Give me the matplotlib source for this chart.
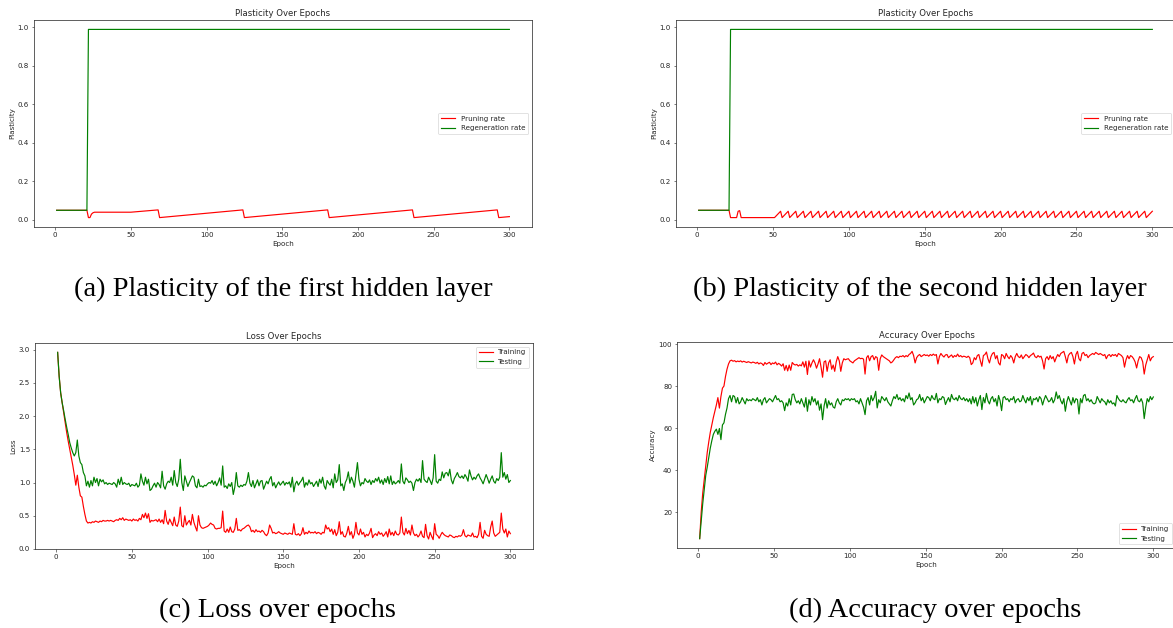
import matplotlib
matplotlib.use("Agg")
import matplotlib.pyplot as plt
import numpy as np

# ---------------- data ----------------
epochs = list(range(1, 301))

# (a) plasticity of first hidden layer (breakpoints of the drawn line)
a_prune_x = [1, 21, 22, 23, 24, 25, 26, 50, 68, 69, 124, 125, 180, 181, 236, 237, 292, 293, 300]
a_prune_y = [0.05, 0.05, 0.012, 0.012, 0.03, 0.037, 0.04, 0.04, 0.052, 0.012, 0.052, 0.012,
             0.052, 0.012, 0.052, 0.012, 0.052, 0.012, 0.017]
regen_x = [1, 21, 22, 300]
regen_y = [0.05, 0.05, 0.99, 0.99]

# (b) plasticity of second hidden layer (breakpoints of the drawn line)
b_prune_x = [1, 21, 22, 26, 27, 28, 29,
             51, 55, 56, 60, 61, 65, 66, 70, 71, 75, 76, 80, 81, 85, 86, 90, 91, 95, 96, 100,
             101, 105, 106, 110, 111, 115, 116, 120, 121, 125, 126, 130, 131, 135, 136, 140,
             141, 145, 146, 150, 151, 155, 156, 160, 161, 165, 166, 170, 171, 175, 176, 180,
             181, 185, 186, 190, 191, 195, 196, 200, 201, 205, 206, 210, 211, 215, 216, 220,
             221, 225, 226, 230, 231, 235, 236, 240, 241, 245, 246, 250, 251, 255, 256, 260,
             261, 265, 266, 270, 271, 275, 276, 280, 281, 285, 286, 290, 291, 295, 296, 300]
b_prune_y = [0.05, 0.05, 0.012, 0.012, 0.045, 0.048, 0.012,
             0.012, 0.045, 0.012, 0.045, 0.012, 0.045, 0.012, 0.045, 0.012, 0.045, 0.012, 0.045,
             0.012, 0.045, 0.012, 0.045, 0.012, 0.045, 0.012, 0.045,
             0.012, 0.045, 0.012, 0.045, 0.012, 0.045, 0.012, 0.045, 0.012, 0.045, 0.012, 0.045,
             0.012, 0.045, 0.012, 0.045,
             0.012, 0.045, 0.012, 0.045, 0.012, 0.045, 0.012, 0.045, 0.012, 0.045, 0.012, 0.045,
             0.012, 0.045, 0.012, 0.045,
             0.012, 0.045, 0.012, 0.045, 0.012, 0.045, 0.012, 0.045, 0.012, 0.045, 0.012, 0.045,
             0.012, 0.045, 0.012, 0.045,
             0.012, 0.045, 0.012, 0.045, 0.012, 0.045, 0.012, 0.045, 0.012, 0.045, 0.012, 0.045,
             0.012, 0.045, 0.012, 0.045,
             0.012, 0.045, 0.012, 0.045, 0.012, 0.045, 0.012, 0.045, 0.012, 0.045, 0.012, 0.045,
             0.012, 0.045, 0.012, 0.045]

# (c) loss
train_loss = [
    2.96, 2.60, 2.35, 2.20, 2.05, 1.90, 1.75, 1.62, 1.50, 1.38, 1.26, 1.12, 0.96, 1.11, 0.93, 0.80, 0.78, 0.64, 0.52, 0.42,
    0.39, 0.40, 0.39, 0.41, 0.40, 0.42, 0.41, 0.40, 0.42, 0.41, 0.43, 0.42, 0.42, 0.43, 0.42, 0.43, 0.42, 0.41, 0.43, 0.44,
    0.43, 0.46, 0.44, 0.47, 0.43, 0.45, 0.44, 0.43, 0.44, 0.42, 0.45, 0.43, 0.44, 0.42, 0.46, 0.44, 0.52, 0.47, 0.54, 0.46,
    0.53, 0.40, 0.43, 0.42, 0.43, 0.44, 0.41, 0.45, 0.40, 0.44, 0.38, 0.58, 0.42, 0.37, 0.45, 0.40, 0.35, 0.48, 0.36, 0.34,
    0.42, 0.63, 0.35, 0.33, 0.50, 0.36, 0.40, 0.43, 0.36, 0.52, 0.40, 0.33, 0.27, 0.50, 0.36, 0.32, 0.31, 0.32, 0.33, 0.34,
    0.36, 0.39, 0.37, 0.36, 0.31, 0.30, 0.31, 0.31, 0.32, 0.57, 0.27, 0.25, 0.30, 0.25, 0.33, 0.26, 0.25, 0.30, 0.46, 0.28,
    0.29, 0.27, 0.30, 0.31, 0.33, 0.35, 0.36, 0.33, 0.26, 0.28, 0.25, 0.29, 0.26, 0.27, 0.25, 0.28, 0.26, 0.22, 0.20, 0.24,
    0.36, 0.31, 0.24, 0.25, 0.23, 0.24, 0.26, 0.24, 0.23, 0.22, 0.24, 0.23, 0.22, 0.24, 0.23, 0.22, 0.38, 0.22, 0.21, 0.23,
    0.20, 0.23, 0.32, 0.22, 0.25, 0.23, 0.27, 0.24, 0.25, 0.24, 0.26, 0.23, 0.25, 0.24, 0.22, 0.25, 0.24, 0.36, 0.30, 0.32,
    0.26, 0.30, 0.22, 0.29, 0.20, 0.25, 0.41, 0.22, 0.26, 0.19, 0.18, 0.24, 0.34, 0.21, 0.26, 0.16, 0.22, 0.40, 0.24, 0.21,
    0.30, 0.22, 0.25, 0.18, 0.22, 0.20, 0.24, 0.31, 0.17, 0.21, 0.23, 0.20, 0.26, 0.22, 0.24, 0.19, 0.22, 0.26, 0.18, 0.30,
    0.21, 0.25, 0.20, 0.27, 0.22, 0.21, 0.24, 0.48, 0.25, 0.21, 0.31, 0.23, 0.28, 0.21, 0.36, 0.24, 0.20, 0.22, 0.18, 0.21,
    0.27, 0.19, 0.17, 0.37, 0.20, 0.15, 0.25, 0.19, 0.14, 0.38, 0.22, 0.20, 0.16, 0.21, 0.25, 0.22, 0.20, 0.19, 0.18, 0.21,
    0.20, 0.18, 0.17, 0.19, 0.18, 0.20, 0.19, 0.21, 0.29, 0.20, 0.18, 0.21, 0.20, 0.19, 0.24, 0.18, 0.19, 0.17, 0.22, 0.40,
    0.19, 0.16, 0.28, 0.22, 0.20, 0.19, 0.33, 0.42, 0.24, 0.19, 0.21, 0.23, 0.25, 0.54, 0.30, 0.24, 0.30, 0.18, 0.27, 0.23,
]
test_loss = [
    2.96, 2.60, 2.35, 2.20, 2.08, 1.95, 1.83, 1.72, 1.60, 1.52, 1.45, 1.40, 1.45, 1.64, 1.40, 1.30, 1.27, 1.15, 1.10, 0.95,
    1.02, 0.93, 1.03, 0.95, 1.08, 1.00, 1.06, 0.95, 1.05, 1.01, 1.04, 0.98, 1.00, 0.97, 0.99, 0.98, 0.97, 1.00, 0.98, 0.93,
    1.05, 0.97, 1.08, 0.97, 1.00, 0.98, 0.97, 0.99, 0.94, 0.97, 0.96, 0.95, 0.99, 0.93, 0.96, 1.13, 1.02, 0.96, 1.08, 0.98,
    1.05, 0.88, 0.90, 0.95, 0.99, 0.93, 1.00, 0.97, 0.92, 1.17, 0.95, 0.90, 0.98, 1.02, 1.00, 1.08, 0.96, 1.18, 1.00, 0.94,
    1.05, 1.35, 1.00, 0.88, 1.10, 1.02, 0.94, 1.00, 1.05, 1.10, 1.08, 0.95, 0.92, 1.05, 0.94, 0.95, 0.93, 0.96, 0.95, 0.98,
    1.00, 0.99, 1.03, 0.97, 1.02, 0.95, 1.00, 1.07, 0.96, 1.25, 0.93, 0.95, 0.91, 0.98, 0.94, 1.00, 0.82, 0.93, 1.15, 0.95,
    0.93, 0.96, 0.94, 0.97, 0.96, 1.02, 1.15, 0.99, 0.94, 1.03, 0.92, 0.98, 1.04, 0.95, 1.02, 1.03, 0.90, 0.96, 1.02, 0.98,
    1.05, 1.09, 0.95, 1.00, 0.92, 0.97, 1.01, 0.96, 0.99, 1.02, 0.96, 1.00, 0.98, 1.01, 0.93, 1.08, 0.86, 0.98, 1.02, 0.96,
    1.00, 1.03, 1.08, 0.93, 1.00, 0.96, 1.04, 0.98, 1.00, 0.94, 0.98, 1.02, 0.94, 1.05, 0.99, 1.08, 0.95, 0.90, 1.03, 0.99,
    0.96, 1.05, 0.92, 1.13, 1.00, 1.04, 1.27, 0.95, 0.98, 0.88, 1.00, 1.05, 1.16, 0.99, 1.08, 1.02, 0.93, 1.12, 1.30, 1.05,
    0.95, 1.00, 0.98, 1.06, 1.02, 1.00, 1.04, 0.97, 1.03, 1.00, 1.06, 1.02, 1.08, 0.99, 1.04, 0.97, 1.06, 1.00, 1.09, 0.98,
    1.10, 0.97, 1.02, 0.98, 1.00, 1.03, 0.99, 1.28, 1.02, 0.98, 1.07, 1.04, 1.00, 1.02, 0.99, 0.88, 1.00, 1.05, 1.02, 1.06,
    1.00, 1.33, 1.05, 1.02, 1.00, 1.08, 1.03, 0.97, 1.07, 1.42, 1.02, 0.99, 1.05, 1.03, 1.16, 1.07, 1.14, 1.15, 1.10, 1.20,
    1.04, 0.98, 1.06, 1.10, 1.15, 1.09, 1.07, 1.10, 1.06, 1.12, 1.08, 1.02, 1.19, 1.10, 1.04, 1.08, 1.05, 1.10, 1.13, 1.07,
    1.03, 0.98, 1.05, 1.12, 1.06, 0.99, 1.05, 1.10, 1.02, 0.99, 1.06, 1.03, 1.08, 1.45, 1.08, 1.15, 1.05, 1.12, 1.00, 1.03,
]

# (d) accuracy
train_acc = [
    7.4, 20.0, 29.0, 35.5, 42.0, 48.5, 53.5, 58.0, 61.5, 65.0, 68.0, 71.0, 74.5, 69.5, 75.0, 79.0, 80.0, 84.5, 88.0, 90.5,
    92.0, 92.3, 91.8, 92.1, 91.5, 91.9, 91.6, 92.0, 91.4, 91.8, 91.5, 91.2, 91.6, 91.3, 91.0, 91.4, 91.2, 90.8, 91.3, 90.5,
    91.0, 90.7, 89.8, 91.2, 90.4, 90.9, 91.3, 90.2, 91.0, 90.6, 91.4, 90.1, 90.8, 90.3, 89.5, 90.6, 87.5, 89.8, 87.2, 90.0,
    87.5, 91.2, 90.4, 90.0, 90.3, 89.5, 90.1, 89.6, 91.5, 89.0, 91.8, 85.5, 92.0, 89.0, 91.0, 92.5, 91.0, 88.5, 90.5, 93.0,
    89.0, 84.2, 91.5, 92.0, 87.0, 91.0, 92.5, 88.0, 90.0, 87.0, 91.5, 94.0, 92.0, 87.0, 91.0, 93.0, 92.5, 92.8, 93.0, 92.0,
    91.5, 91.0, 92.0, 92.5, 93.0, 93.5, 93.0, 93.2, 92.8, 85.7, 93.5, 94.5, 92.0, 94.0, 94.5, 92.5, 94.0, 93.5, 87.5, 93.0,
    94.8, 94.0, 93.5, 93.0, 92.5, 92.0, 91.0, 91.5, 92.5, 93.5, 94.0, 93.5, 94.2, 94.0, 94.5, 93.8, 94.5, 94.0, 95.0, 95.5,
    96.5, 94.5, 91.0, 93.5, 94.5, 95.0, 94.0, 94.5, 95.0, 94.5, 94.8, 94.2, 95.0, 94.5, 95.2, 94.6, 95.0, 90.5, 94.0, 95.5,
    94.5, 93.8, 94.8, 95.0, 93.5, 94.2, 94.8, 93.6, 94.5, 94.0, 95.2, 94.0, 94.5, 93.8, 94.2, 94.0, 93.6, 94.2, 93.5, 90.2,
    91.0, 93.5, 92.5, 94.5, 95.0, 92.0, 89.4, 94.5, 95.0, 96.2, 93.0, 91.0, 94.0, 95.5, 96.0, 93.0, 94.5, 91.0, 90.0, 95.0,
    94.5, 93.0, 95.5, 94.0, 93.0, 94.5, 93.5, 91.0, 94.0, 95.5, 94.0, 93.5, 94.8, 93.0, 94.0, 95.0, 94.5, 93.5, 94.5, 95.0,
    95.7, 94.0, 93.5, 94.5, 93.8, 94.2, 92.0, 88.1, 93.0, 94.0, 92.5, 94.5, 93.0, 94.0, 91.5, 93.5, 95.0, 94.0, 95.5, 96.0,
    96.5, 94.0, 91.0, 94.5, 95.5, 96.0, 94.0, 90.5, 95.0, 96.5, 93.0, 92.0, 95.5, 96.0, 94.5, 95.0, 93.5, 94.5, 95.0, 95.5,
    95.0, 96.0, 95.5, 95.0, 95.5, 95.0, 94.5, 95.0, 93.0, 94.5, 95.0, 94.0, 95.0, 94.5, 95.0, 94.0, 95.5, 95.0, 94.5, 93.5,
    89.0, 92.5, 94.5, 93.0, 94.5, 94.0, 93.0, 91.5, 88.6, 92.0, 94.0, 93.5, 91.5, 85.7, 90.0, 92.5, 95.0, 92.0, 93.5, 94.0,
]
test_acc = [
    7.4, 16.0, 24.0, 31.0, 37.5, 41.5, 46.0, 50.5, 54.0, 57.0, 58.5, 59.5, 57.0, 59.8, 54.5, 61.5, 62.5, 66.5, 69.5, 74.0,
    75.5, 72.5, 75.5, 75.0, 72.0, 74.5, 71.5, 72.5, 74.5, 73.0, 71.5, 74.0, 73.0, 73.5, 73.0, 74.0, 73.5, 73.0, 74.5, 72.5,
    73.5, 71.0, 73.5, 74.5, 72.0, 73.0, 74.0, 73.5, 72.5, 74.0, 75.5, 73.5, 74.0, 72.5, 73.0, 72.0, 68.3, 72.0, 70.5, 74.0,
    71.0, 76.0, 76.2, 73.5, 72.0, 73.0, 71.5, 74.0, 72.0, 70.0, 74.5, 68.0, 73.5, 71.0, 75.0, 72.5, 74.0, 71.0, 73.0, 68.5,
    71.5, 64.0, 70.5, 74.0, 69.5, 73.0, 71.0, 72.0, 70.0, 69.5, 72.5, 74.0, 72.0, 71.0, 73.5, 73.0, 74.0, 73.5, 74.0, 73.0,
    74.0, 73.5, 74.0, 72.5, 73.0, 71.5, 74.0, 72.0, 70.0, 66.4, 73.0, 74.5, 71.0, 75.5, 73.0, 74.5, 77.5, 69.6, 73.5, 72.0,
    75.0, 74.0, 73.0, 74.5, 72.5, 71.5, 70.5, 73.0, 75.0, 74.0, 76.0, 73.5, 74.5, 73.0, 74.0, 72.5, 75.5, 74.0, 76.7, 73.5,
    74.5, 71.0, 72.0, 73.5, 74.0, 76.0, 73.0, 74.5, 72.0, 73.5, 75.0, 74.5, 73.0, 75.5, 74.0, 73.5, 76.5, 72.0, 74.0, 73.5,
    75.0, 74.5, 71.2, 73.0, 74.5, 72.5, 76.0, 74.0, 73.5, 74.5, 73.0, 75.5, 74.0, 73.5, 74.5, 73.0, 74.0, 72.5, 74.0, 71.5,
    75.0, 72.0, 74.5, 70.5, 73.5, 75.5, 68.8, 74.5, 72.0, 76.5, 73.0, 71.5, 74.0, 75.0, 72.5, 74.0, 70.5, 75.5, 73.0, 68.3,
    74.5, 75.0, 73.5, 74.0, 72.5, 74.0, 73.5, 75.0, 72.0, 73.5, 74.0, 72.5, 73.0, 75.5, 73.5, 72.0, 74.5, 73.0, 75.0, 71.0,
    74.0, 73.5, 74.5, 72.5, 75.0, 74.0, 71.0, 73.5, 75.5, 74.0, 72.5, 73.0, 74.5, 72.0, 73.5, 77.2, 74.0, 75.5, 73.0, 71.5,
    74.0, 68.0, 72.5, 75.0, 73.0, 71.0, 74.5, 72.0, 74.0, 73.5, 66.7, 74.0, 72.0, 75.5, 76.0, 73.0, 74.0, 72.5, 73.5, 72.0,
    71.5, 72.0, 75.0, 73.5, 72.0, 74.0, 73.0, 72.5, 71.0, 73.5, 72.0, 73.0, 71.5, 72.0, 70.5, 75.5, 74.0, 73.0, 72.5, 73.5,
    72.5, 72.0, 73.5, 74.5, 73.0, 73.5, 72.0, 74.0, 75.5, 73.0, 72.5, 74.0, 72.0, 64.5, 70.0, 74.0, 72.5, 75.0, 73.5, 74.8,
]

captions = ["(a) Plasticity of the first hidden layer",
            "(b) Plasticity of the second hidden layer",
            "(c) Loss over epochs",
            "(d) Accuracy over epochs"]

# ---------------- style ----------------
W, H = 1173, 628
FS = 5.1
TFS = 6.1
TXT = "#262626"
plt.rcParams.update({
    "font.family": ["DejaVu Sans"],
    "axes.linewidth": 0.55,
    "axes.edgecolor": "#333333",
    "xtick.major.size": 1.8,
    "ytick.major.size": 1.8,
    "xtick.major.width": 0.45,
    "ytick.major.width": 0.45,
    "xtick.major.pad": 1.8,
    "ytick.major.pad": 1.8,
    "xtick.labelsize": FS,
    "ytick.labelsize": FS,
    "xtick.color": "#333333",
    "ytick.color": "#333333",
    "xtick.labelcolor": TXT,
    "ytick.labelcolor": TXT,
    "axes.labelpad": 2.0,
    "axes.titlepad": 3.0,
})

fig = plt.figure(figsize=(W / 100, H / 100), dpi=100)


def add_ax(left, top, right, bottom):
    return fig.add_axes([left / W, 1 - bottom / H, (right - left) / W, (bottom - top) / H])


LW = 0.85


def style(ax, title, ylabel):
    ax.set_title(title, fontsize=TFS, color=TXT)
    ax.set_xlabel("Epoch", fontsize=FS, color=TXT)
    ax.set_ylabel(ylabel, fontsize=FS, color=TXT)
    ax.set_xticks([0, 50, 100, 150, 200, 250, 300])


def legend(ax, loc):
    leg = ax.legend(loc=loc, fontsize=FS, handlelength=2.0, borderpad=0.4,
                    labelspacing=0.5, handletextpad=0.8, borderaxespad=0.5)
    leg.get_frame().set_linewidth(0.5)
    for t in leg.get_texts():
        t.set_color(TXT)


# (a)
ax = add_ax(34, 20, 532, 227)
ax.plot(a_prune_x, a_prune_y, color="red", lw=LW, label="Pruning rate")
ax.plot(regen_x, regen_y, color="green", lw=LW, label="Regeneration rate")
style(ax, "Plasticity Over Epochs", "Plasticity")
legend(ax, "center right")

# (b)
ax = add_ax(676, 20, 1175, 227)
ax.plot(b_prune_x, b_prune_y, color="red", lw=LW, label="Pruning rate")
ax.plot(regen_x, regen_y, color="green", lw=LW, label="Regeneration rate")
style(ax, "Plasticity Over Epochs", "Plasticity")
legend(ax, "center right")

# (c)
ax = add_ax(35, 343, 533, 549)
ax.plot(epochs, train_loss, color="red", lw=LW, label="Training")
ax.plot(epochs, test_loss, color="green", lw=LW, label="Testing")
style(ax, "Loss Over Epochs", "Loss")
legend(ax, "upper right")

# (d)
ax = add_ax(677, 342, 1176, 548)
ax.plot(epochs, train_acc, color="red", lw=LW, label="Training")
ax.plot(epochs, test_acc, color="green", lw=LW, label="Testing")
style(ax, "Accuracy Over Epochs", "Accuracy")
legend(ax, "lower right")

# captions
cap_pos = [(283, 289), (920, 289), (277, 610), (935, 610)]
for (cx, cy), txt in zip(cap_pos, captions):
    fig.text(cx / W, 1 - cy / H, txt, ha="center", va="center",
             family=["Liberation Serif", "DejaVu Serif"], fontsize=20.5, color="black")

fig.savefig("out.png", dpi=100)
